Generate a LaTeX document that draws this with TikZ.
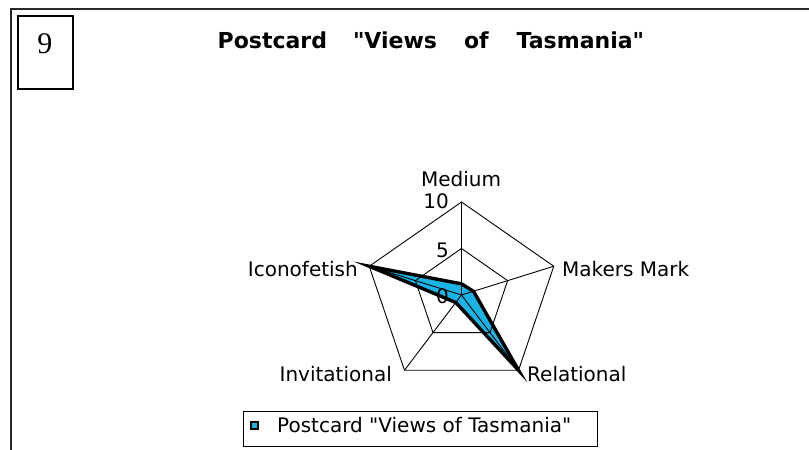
\documentclass[tikz,border=0pt]{standalone}
\usepackage{fontspec}
\setmainfont{DejaVu Sans}[Ligatures=TeXOff]
\newfontfamily\numserif{Liberation Serif}
\definecolor{seriescyan}{RGB}{26,180,228}
\definecolor{framegray}{RGB}{40,40,40}
\begin{document}
\begin{tikzpicture}[x=1pt,y=-1pt,line join=miter,
  lbl/.style={inner sep=0pt,font=\fontsize{20}{20}\selectfont},
  gridline/.style={draw=black,line width=0.9pt},
  datafill/.style={fill=seriescyan},
  dataline/.style={draw=black,line width=3.4pt},
  boxline/.style={draw=black,line width=2pt}]
\path[use as bounding box] (0,0) rectangle (809,450);
\fill[white] (0,0) rectangle (809,450);

% page frame (top and left edges)
\draw[line width=2pt,draw=framegray] (11,450) -- (11,9) -- (809,9);

% plate number
\node[boxline,anchor=north west,minimum width=55pt,minimum height=73pt,inner sep=0pt] (numbox) at (17,15) {};
\node[inner sep=0pt,anchor=base,font=\numserif\fontsize{30}{30}\selectfont] (num) at (45,53) {9};

% title
\node[anchor=base west,inner sep=0pt,font=\bfseries\fontsize{22}{22}\selectfont] (title) at (217.5,48)
  {Postcard\hspace{26pt}"Views\hspace{27pt}of\hspace{28pt}Tasmania"};

% radar chart
\begin{scope}[shift={(461.5,295)},x=9.7pt,y=9.3pt]
  \coordinate (c) at (0,0);
  \foreach \a/\n in {90/md,18/mm,-54/rl,-126/iv,162/ic}{
    \coordinate (\n10) at (\a:10);
    \coordinate (\n5) at (\a:5);
  }
  \coordinate (dmd) at (90:1.2);
  \coordinate (dmm) at (18:1.3);
  \coordinate (drl) at (-54:10);
  \coordinate (div) at (-126:1);
  \coordinate (dic) at (162:10);

  \fill[datafill] (dmd) -- (dmm) -- (drl) -- (div) -- (dic) -- cycle;
  \draw[gridline] (md10) -- (mm10) -- (rl10) -- (iv10) -- (ic10) -- cycle;
  \draw[gridline] (md5) -- (mm5) -- (rl5) -- (iv5) -- (ic5) -- cycle;
  \foreach \n in {md,mm,rl,iv,ic} \draw[gridline] (c) -- (\n10);
  \draw[dataline] (dmd) -- (dmm) -- (drl) -- (div) -- (dic) -- cycle;
\end{scope}

% axis scale
\node[lbl,anchor=base east] (t10) at (449,208) {10};
\node[lbl,anchor=base east] (t5) at (449,257) {5};
\node[lbl,anchor=base east] (t0) at (449,303) {0};

% axis names
\node[lbl,anchor=base] (lmd) at (461,186) {Medium};
\node[lbl,anchor=base west] (lmm) at (562,276) {Makers Mark};
\node[lbl,anchor=base west] (lrl) at (527,381.5) {Relational};
\node[lbl,anchor=base east] (liv) at (392,381.5) {Invitational};
\node[lbl,anchor=base east] (lic) at (358,276) {Iconofetish};

% legend
\node[draw=black,line width=1pt,anchor=north west,minimum width=354pt,minimum height=35pt,inner sep=0pt] (legend) at (243,411) {};
\node[draw=black,line width=2pt,fill=seriescyan,minimum size=7pt,inner sep=0pt] (lmark) at (254.5,425.5) {};
\node[lbl,anchor=base west] (ltext) at (277,432) {Postcard "Views of Tasmania"};
\end{tikzpicture}
\end{document}
